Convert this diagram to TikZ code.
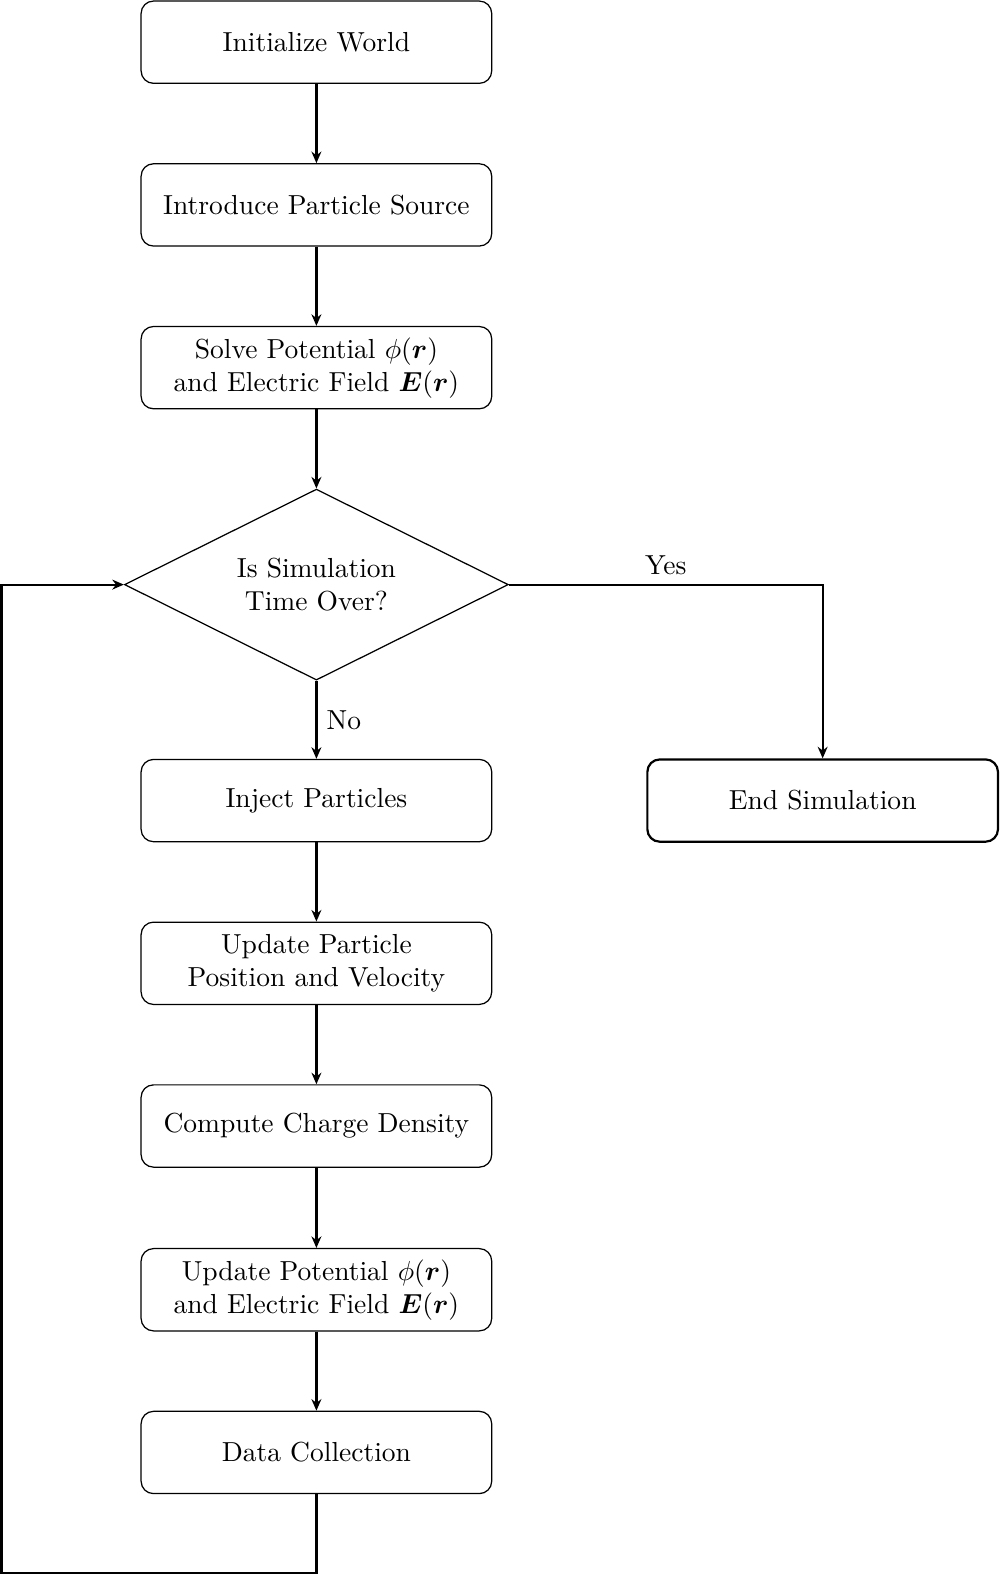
\documentclass[tikz,border=0pt]{standalone}
\usepackage{amsmath}
\usetikzlibrary{shapes.geometric,arrows.meta}
\tikzset{
  procbox/.style={draw, rounded corners=4.5pt, line width=0.45pt, minimum width=127.4pt, minimum height=29.9pt, align=center, inner sep=2pt},
  endbox/.style={procbox, line width=0.8pt},
  decbox/.style={draw, diamond, line width=0.45pt, minimum width=139.5pt, minimum height=69.4pt, aspect=2, align=center, inner sep=0pt},
  conn/.style={line width=0.8pt, -{Stealth[length=4.2pt,width=3.6pt]}},
  plainconn/.style={line width=0.8pt}
}
\begin{document}
\begin{tikzpicture}[x=0.365pt, y=-0.365pt]
\useasboundingbox (0,0) rectangle (995,1568);
\node[procbox] (init) at (315,42) {Initialize World};
\node[procbox] (src) at (315,204) {Introduce Particle Source};
\node[procbox] (solve) at (315,366) {Solve Potential $\phi(\boldsymbol{r})$\\and Electric Field $\boldsymbol{E}(\boldsymbol{r})$};
\node[decbox] (dec) at (315,582) {Is Simulation\\Time Over?};
\node[procbox] (inj) at (315,797) {Inject Particles};
\node[endbox] (end) at (819,797) {End Simulation};
\node[procbox] (upd) at (315,959) {Update Particle\\Position and Velocity};
\node[procbox] (rho) at (315,1121) {Compute Charge Density};
\node[procbox] (pot) at (315,1284) {Update Potential $\phi(\boldsymbol{r})$\\and Electric Field $\boldsymbol{E}(\boldsymbol{r})$};
\node[procbox] (data) at (315,1446) {Data Collection};
\coordinate (c1) at (315,1566);
\coordinate (c2) at (1.5,1566);
\coordinate (c3) at (1.5,582);
\draw[conn] (init) -- (src);
\draw[conn] (src) -- (solve);
\draw[conn] (solve) -- (dec);
\draw[conn] (dec) -- node[right] (nolbl) {No} (inj);
\draw[conn] (dec.east) -| node[pos=0.25, above] (yeslbl) {Yes} (end.north);
\draw[conn] (inj) -- (upd);
\draw[conn] (upd) -- (rho);
\draw[conn] (rho) -- (pot);
\draw[conn] (pot) -- (data);
\draw[conn] (data.south) -- (c1) -- (c2) -- (c3) -- (dec.west);
\end{tikzpicture}
\end{document}
